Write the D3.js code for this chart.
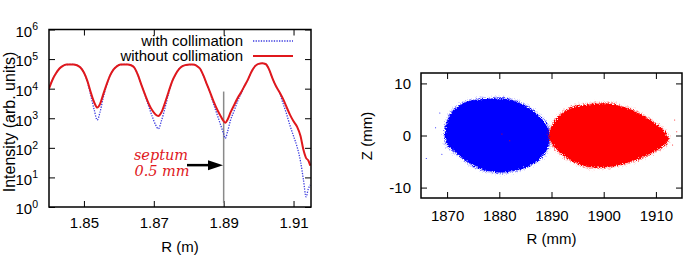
<!DOCTYPE html>
<html>
<head>
<meta charset="utf-8">
<script src="https://cdn.jsdelivr.net/npm/d3@7"></script>
<style>
body { margin: 0; background: #fff; }
svg { display: block; }
.tick text { font-family: "Liberation Sans", Arial, sans-serif; font-size: 15px; fill: #000; }
.tick line { stroke: #000; stroke-width: 1; }
.lbl { font-family: "Liberation Sans", Arial, sans-serif; font-size: 15px; fill: #000; }
.note { font-family: "DejaVu Serif", serif; font-style: italic; font-size: 14.5px; fill: #e0181c; }
</style>
</head>
<body>
<svg width="687" height="278">
  <defs>
    <filter id="fuzz" x="-10%" y="-10%" width="120%" height="120%">
      <feTurbulence type="fractalNoise" baseFrequency="0.9" numOctaves="2" seed="3" result="n"/>
      <feDisplacementMap in="SourceGraphic" in2="n" scale="5" xChannelSelector="R" yChannelSelector="G"/>
    </filter>
  </defs>
</svg>
<script>
// left panel: intensity profiles
var rM = [1.8400, 1.8410, 1.8420, 1.8430, 1.8440, 1.8450, 1.8460, 1.8470, 1.8480, 1.8490,
          1.8500, 1.8510, 1.8520, 1.8530, 1.8538, 1.8546, 1.8555, 1.8565, 1.8575, 1.8585,
          1.8595, 1.8605, 1.8615, 1.8625, 1.8635, 1.8645, 1.8655, 1.8665, 1.8675, 1.8685,
          1.8695, 1.8705, 1.8713, 1.8722, 1.8732, 1.8742, 1.8752, 1.8762, 1.8772, 1.8782,
          1.8792, 1.8802, 1.8812, 1.8822, 1.8832, 1.8842, 1.8852, 1.8862, 1.8872, 1.8882,
          1.8892, 1.8899, 1.8905, 1.8911, 1.8920, 1.8930, 1.8940, 1.8950, 1.8960, 1.8970,
          1.8980, 1.8990, 1.9000, 1.9010, 1.9020, 1.9030, 1.9040, 1.9050, 1.9060, 1.9070,
          1.9080, 1.9090, 1.9100, 1.9110, 1.9120, 1.9128, 1.9136, 1.9142, 1.9148];

var withoutColl = [1.0e4, 2.0e4, 3.3e4, 4.8e4, 5.9e4, 6.5e4, 6.6e4, 6.6e4, 6.2e4, 5.2e4,
                   3.5e4, 1.8e4, 7.2e3, 3.3e3, 2.3e3, 3.0e3, 6.3e3, 1.4e4, 2.8e4, 4.5e4,
                   5.8e4, 6.5e4, 6.6e4, 6.6e4, 6.2e4, 5.0e4, 2.8e4, 1.3e4, 6.3e3, 3.2e3,
                   1.9e3, 1.35e3, 1.2e3, 1.6e3, 3.3e3, 7.6e3, 1.7e4, 3.0e4, 4.6e4, 5.8e4,
                   6.3e4, 6.5e4, 6.5e4, 6.0e4, 4.8e4, 2.8e4, 1.4e4, 7.1e3, 3.5e3, 1.9e3,
                   1.15e3, 830, 710, 890, 1.6e3, 2.8e3, 4.8e3, 7.6e3, 1.26e4, 2.1e4,
                   3.8e4, 5.8e4, 6.9e4, 7.2e4, 6.8e4, 4.5e4, 2.2e4, 1.2e4, 7.6e3, 4.5e3,
                   2.4e3, 1.3e3, 790, 520, 250, 89, 45, 38, 25];

var withColl = [1.0e4, 2.0e4, 3.3e4, 4.8e4, 5.9e4, 6.5e4, 6.6e4, 6.6e4, 6.2e4, 5.2e4,
                3.5e4, 1.7e4, 5.6e3, 1.8e3, 870, 1.6e3, 4.8e3, 1.3e4, 2.8e4, 4.5e4,
                5.8e4, 6.5e4, 6.6e4, 6.6e4, 6.2e4, 5.0e4, 2.8e4, 1.3e4, 6.0e3, 2.6e3,
                1.2e3, 600, 440, 830, 2.2e3, 6.6e3, 1.7e4, 3.0e4, 4.6e4, 5.8e4,
                6.3e4, 6.5e4, 6.5e4, 6.0e4, 4.8e4, 2.8e4, 1.4e4, 6.6e3, 2.8e3, 1.26e3,
                560, 320, 210, 350, 890, 1.8e3, 3.8e3, 6.9e3, 1.26e4, 2.1e4,
                3.8e4, 5.8e4, 6.9e4, 7.2e4, 6.8e4, 4.5e4, 2.2e4, 1.2e4, 7.1e3, 3.2e3,
                1.4e3, 560, 250, 110, 35, 8.9, 2.2, 4.0, 5.6];

var rTicks = [1.85, 1.87, 1.89, 1.91];
var iTicks = [0, 1, 2, 3, 4, 5, 6];
var septumR = 1.89;
var legendNames = ["with collimation", "without collimation"];

// right panel: beam cross sections, outlines
var blueBeam = [[1869.6, -0.2], [1869.9, 2.3], [1871.2, 4.9], [1873.8, 6.5], [1876.9, 7.0],
                [1880.8, 7.1], [1883.3, 6.5], [1885.9, 5.2], [1888.1, 3.3], [1889.4, 1.4],
                [1889.7, -0.5], [1889.1, -2.8], [1887.2, -5.0], [1884.6, -6.3], [1880.8, -7.1],
                [1876.9, -6.6], [1873.8, -5.0], [1871.5, -3.1], [1870.0, -1.8]];
var redBeam = [[1889.6, -0.5], [1890.0, 1.7], [1891.6, 3.9], [1894.2, 5.5], [1897.4, 6.0],
               [1900.6, 6.2], [1903.8, 5.5], [1906.6, 4.3], [1909.5, 2.6], [1911.7, 0.7],
               [1912.4, -0.9], [1910.8, -2.5], [1907.6, -4.1], [1904.4, -5.3], [1900.6, -6.1],
               [1896.8, -6.0], [1893.6, -4.7], [1891.0, -2.8]];
var blueStray = [[1866.0, -4.4], [1868.6, 4.3], [1867.8, 1.5], [1869.0, -3.6]];
var redStray = [[1913.6, 3.0], [1914.0, 0.7], [1913.2, -1.8], [1880.5, 0.3], [1882.0, -1.0]];
var rmmTicks = [1870, 1880, 1890, 1900, 1910];
var zTicks = [-10, 0, 10];

var svg = d3.select("svg");
var blue = "#3b3bdf", red = "#e0181c";

function box(g, w, h) {
    g.append("rect").attr("width", w).attr("height", h)
        .attr("fill", "none").attr("stroke", "#000").attr("stroke-width", 1.5);
}

function ticksOnly(sel) {
    sel.select(".domain").remove();
}

function noLabels(sel) {
    sel.select(".domain").remove();
    sel.selectAll(".tick text").remove();
}

// ---------- left panel
var L = {x: 49, y: 29.5, w: 262, h: 177.5};
var gl = svg.append("g").attr("transform", "translate(" + L.x + "," + L.y + ")");
var x1 = d3.scaleLinear().domain([1.84, 1.915]).range([0, L.w]);
var y1 = d3.scaleLog().domain([1, 1e6]).range([L.h, 0]);
var decades = iTicks.map(function(e) { return Math.pow(10, e); });

gl.append("clipPath").attr("id", "clipL").append("rect").attr("width", L.w).attr("height", L.h);

gl.append("g").attr("transform", "translate(0," + L.h + ")")
    .call(d3.axisBottom(x1).tickValues(rTicks).tickFormat(d3.format(".2f"))
        .tickSizeInner(-6).tickSizeOuter(0).tickPadding(10)).call(ticksOnly);
gl.append("g")
    .call(d3.axisTop(x1).tickValues(rTicks).tickSizeInner(-6).tickSizeOuter(0))
    .call(noLabels);

var yAx = gl.append("g")
    .call(d3.axisLeft(y1).tickValues(decades).tickSizeInner(-6).tickSizeOuter(0))
    .call(noLabels);
yAx.selectAll(".tick").each(function(d) {
    var t = d3.select(this).append("text").attr("x", -11).attr("dy", "0.45em")
        .attr("text-anchor", "end").attr("fill", "#000");
    t.append("tspan").text("10");
    t.append("tspan").attr("dy", "-0.6em").attr("font-size", "10.5px")
        .text(Math.round(Math.log10(d)));
});
gl.append("g").attr("transform", "translate(" + L.w + ",0)")
    .call(d3.axisRight(y1).tickValues(decades).tickSizeInner(-6).tickSizeOuter(0))
    .call(noLabels);

// septum marker
gl.append("line").attr("x1", x1(septumR)).attr("x2", x1(septumR))
    .attr("y1", y1(8e3)).attr("y2", L.h - 4)
    .attr("stroke", "#8a8a8a").attr("stroke-width", 1.5);

var line1 = d3.line().x(function(d) { return x1(d[0]); }).y(function(d) { return y1(d[1]); })
    .curve(d3.curveMonotoneX);

var plot = gl.append("g").attr("clip-path", "url(#clipL)");
plot.append("path").datum(d3.zip(rM, withColl)).attr("d", line1)
    .attr("fill", "none").attr("stroke", blue).attr("stroke-width", 1.3)
    .attr("stroke-dasharray", "1.3 1.3");
plot.append("path").datum(d3.zip(rM, withoutColl)).attr("d", line1)
    .attr("fill", "none").attr("stroke", red).attr("stroke-width", 2);

// legend
var leg = gl.append("g");
[[legendNames[0], blue, "1.3 1.3", 1.3], [legendNames[1], red, null, 2]].forEach(function(s, i) {
    var yy = 11.5 + i * 15;
    leg.append("text").attr("class", "lbl").attr("x", 194).attr("y", yy).attr("dy", "0.35em")
        .attr("text-anchor", "end").text(s[0]);
    leg.append("line").attr("x1", 204).attr("x2", 244).attr("y1", yy).attr("y2", yy)
        .attr("stroke", s[1]).attr("stroke-width", s[3]).attr("stroke-dasharray", s[2]);
});

// annotation
gl.append("text").attr("class", "note").attr("x", 112).attr("y", y1(40)).attr("text-anchor", "middle")
    .text("septum");
gl.append("text").attr("class", "note").attr("x", 113).attr("y", y1(40) + 16).attr("text-anchor", "middle")
    .text("0.5 mm");
var ay = y1(26);
gl.append("line").attr("x1", 138).attr("x2", 162).attr("y1", ay).attr("y2", ay)
    .attr("stroke", "#000").attr("stroke-width", 2.5);
gl.append("path").attr("d", "M159," + (ay - 5) + "L174," + ay + "L159," + (ay + 5) + "Z").attr("fill", "#000");

gl.append("text").attr("class", "lbl").attr("x", x1(1.8775)).attr("y", 217).attr("dy", "0.35em")
    .attr("text-anchor", "middle").text("R (m)");
svg.append("text").attr("class", "lbl").attr("transform", "translate(9,122) rotate(-90)")
    .attr("dy", "0.35em").attr("text-anchor", "middle").style("font-size", "16px")
    .text("Intensity (arb. units)");
box(gl, L.w, L.h);

// ---------- right panel
var P = {x: 421, y: 73, w: 261, h: 125};
var gr = svg.append("g").attr("transform", "translate(" + P.x + "," + P.y + ")");
var x2 = d3.scaleLinear().domain([1865, 1915]).range([0, P.w]);
var y2 = d3.scaleLinear().domain([-12, 12]).range([P.h, 0]);

gr.append("g").attr("transform", "translate(0," + P.h + ")")
    .call(d3.axisBottom(x2).tickValues(rmmTicks).tickFormat(d3.format("d"))
        .tickSizeInner(-6).tickSizeOuter(0).tickPadding(12))
    .call(ticksOnly);
gr.append("g").call(d3.axisTop(x2).tickValues(rmmTicks).tickSizeInner(-6).tickSizeOuter(0))
    .call(noLabels);
gr.append("g").call(d3.axisLeft(y2).tickValues(zTicks)
        .tickFormat(function(d) { return String(d); })
        .tickSizeInner(-6).tickSizeOuter(0).tickPadding(10))
    .call(ticksOnly);
gr.append("g").attr("transform", "translate(" + P.w + ",0)")
    .call(d3.axisRight(y2).tickValues(zTicks).tickSizeInner(-6).tickSizeOuter(0))
    .call(noLabels);

var blob = d3.line().x(function(d) { return x2(d[0]); }).y(function(d) { return y2(d[1]); })
    .curve(d3.curveCardinalClosed.tension(0.3));

[[blueBeam, blueStray, "#0000ff"], [redBeam, redStray, "#ff0000"]].forEach(function(b) {
    var gb = gr.append("g");
    gb.append("path").attr("d", blob(b[0])).attr("fill", b[2])
        .attr("stroke", b[2]).attr("stroke-width", 3).attr("stroke-dasharray", "0.7 1.3")
        .attr("stroke-opacity", 0.6).attr("filter", "url(#fuzz)");
    gb.append("path").attr("d", blob(b[0])).attr("fill", "none")
        .attr("stroke", b[2]).attr("stroke-width", 6).attr("stroke-dasharray", "0.5 3.5")
        .attr("stroke-opacity", 0.25).attr("filter", "url(#fuzz)");
    gb.selectAll("circle").data(b[1]).enter().append("circle")
        .attr("cx", function(d) { return x2(d[0]); }).attr("cy", function(d) { return y2(d[1]); })
        .attr("r", 0.5).attr("fill", b[2]);
});

gr.append("text").attr("class", "lbl").attr("x", x2(1890)).attr("y", 166).attr("dy", "0.35em")
    .attr("text-anchor", "middle").text("R (mm)");
svg.append("text").attr("class", "lbl").attr("transform", "translate(367,136) rotate(-90)")
    .attr("dy", "0.35em").attr("text-anchor", "middle").text("Z (mm)");
box(gr, P.w, P.h);
</script>
</body>
</html>
